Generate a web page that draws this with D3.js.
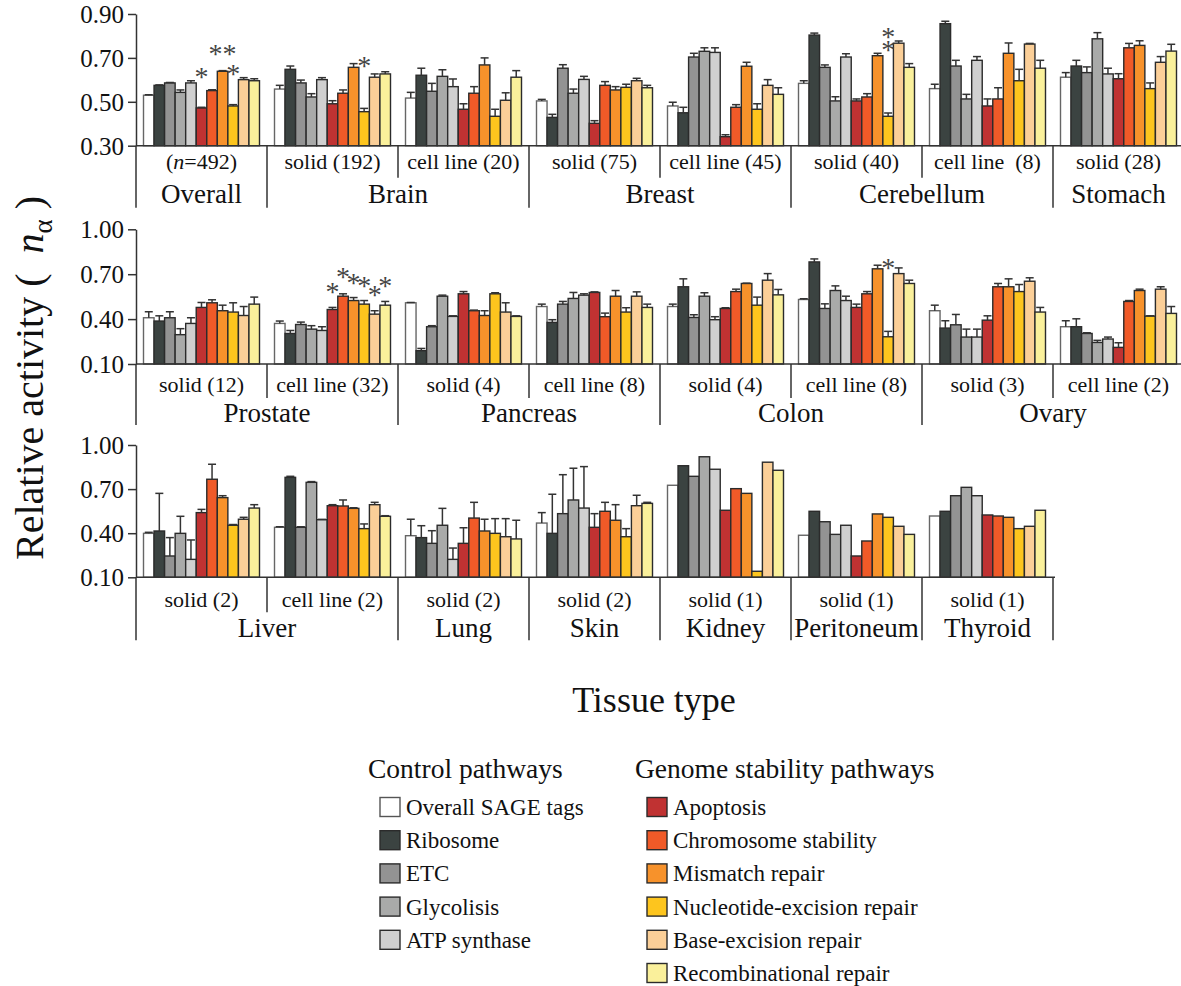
<!DOCTYPE html>
<html>
<head>
<meta charset="utf-8">
<script src="https://cdnjs.cloudflare.com/ajax/libs/d3/7.8.5/d3.min.js"></script>
<style>
  body { margin: 0; background: #fff; }
  svg { display: block; font-family: "Liberation Serif", "Times New Roman", serif; }
</style>
</head>
<body>
<div id="chart"></div>
<script>
// series (pathways), in bar order
const seriesNames = ["Overall SAGE tags", "Ribosome", "ETC", "Glycolisis", "ATP synthase",
  "Apoptosis", "Chromosome stability", "Mismatch repair", "Nucleotide-excision repair",
  "Base-excision repair", "Recombinational repair"];
const seriesColors = ["#ffffff", "#3b4341", "#939393", "#a9aaa9", "#d0d0d0",
  "#c03232", "#f05a28", "#f7922b", "#fdc51e", "#fbcf98", "#faf09b"];
const controlCount = 5;

// row 1
const row1Groups = ["(n=492)", "solid (192)", "cell line (20)", "solid (75)", "cell line (45)", "solid (40)", "cell line  (8)", "solid (28)"];
const row1Tissues = [["Overall", 1], ["Brain", 2], ["Breast", 2], ["Cerebellum", 2], ["Stomach", 1]];
const row1Ticks = [0.30, 0.50, 0.70, 0.90];
const row1Values = [
  [0.530, 0.575, 0.586, 0.543, 0.586, 0.472, 0.551, 0.639, 0.481, 0.601, 0.596],
  [0.558, 0.648, 0.586, 0.522, 0.601, 0.491, 0.539, 0.657, 0.455, 0.612, 0.627],
  [0.517, 0.621, 0.548, 0.616, 0.569, 0.466, 0.539, 0.668, 0.434, 0.507, 0.612],
  [0.504, 0.429, 0.653, 0.539, 0.602, 0.402, 0.575, 0.554, 0.566, 0.596, 0.564],
  [0.481, 0.450, 0.704, 0.730, 0.725, 0.341, 0.475, 0.662, 0.466, 0.575, 0.534],
  [0.584, 0.804, 0.657, 0.504, 0.704, 0.504, 0.522, 0.710, 0.434, 0.767, 0.657],
  [0.560, 0.856, 0.663, 0.513, 0.689, 0.481, 0.513, 0.721, 0.596, 0.763, 0.653],
  [0.612, 0.663, 0.633, 0.787, 0.627, 0.605, 0.746, 0.757, 0.560, 0.680, 0.731]
];
const row1Errors = [
  [0.002, 0.002, 0.002, 0.011, 0.010, 0.003, 0.004, 0.003, 0.006, 0.009, 0.009],
  [0.017, 0.015, 0.013, 0.015, 0.009, 0.014, 0.015, 0.017, 0.015, 0.015, 0.010],
  [0.026, 0.032, 0.036, 0.030, 0.035, 0.025, 0.030, 0.032, 0.032, 0.034, 0.030],
  [0.007, 0.014, 0.016, 0.019, 0.014, 0.012, 0.017, 0.015, 0.014, 0.011, 0.011],
  [0.017, 0.025, 0.017, 0.016, 0.021, 0.009, 0.012, 0.018, 0.025, 0.026, 0.030],
  [0.012, 0.009, 0.011, 0.019, 0.015, 0.009, 0.015, 0.011, 0.015, 0.010, 0.017],
  [0.020, 0.011, 0.026, 0.021, 0.017, 0.032, 0.051, 0.047, 0.052, 0.003, 0.036],
  [0.021, 0.026, 0.026, 0.028, 0.026, 0.023, 0.020, 0.021, 0.026, 0.026, 0.031]
];
const row1Stars = [[0, 5, 0.631, "*"], [0, 7, 0.736, "**"], [0, 8, 0.645, "*"],
  [1, 8, 0.681, "*"], [5, 8, 0.813, "*"], [5, 8, 0.754, "*"]];

// row 2
const row2Groups = ["solid (12)", "cell line (32)", "solid (4)", "cell line (8)", "solid (4)", "cell line (8)", "solid (3)", "cell line (2)"];
const row2Tissues = [["Prostate", 2], ["Pancreas", 2], ["Colon", 2], ["Ovary", 2]];
const row2Ticks = [0.10, 0.40, 0.70, 1.00];
const row2Values = [
  [0.409, 0.387, 0.409, 0.296, 0.371, 0.478, 0.509, 0.456, 0.447, 0.424, 0.500],
  [0.371, 0.304, 0.364, 0.333, 0.324, 0.464, 0.553, 0.524, 0.500, 0.433, 0.493],
  [0.509, 0.189, 0.349, 0.553, 0.418, 0.569, 0.456, 0.424, 0.569, 0.447, 0.418],
  [0.484, 0.378, 0.500, 0.538, 0.560, 0.578, 0.416, 0.553, 0.447, 0.553, 0.478],
  [0.484, 0.616, 0.411, 0.553, 0.396, 0.471, 0.584, 0.638, 0.493, 0.660, 0.562],
  [0.531, 0.782, 0.471, 0.591, 0.524, 0.478, 0.569, 0.736, 0.282, 0.704, 0.638],
  [0.456, 0.340, 0.362, 0.280, 0.280, 0.393, 0.616, 0.616, 0.584, 0.653, 0.447],
  [0.349, 0.349, 0.304, 0.244, 0.267, 0.211, 0.518, 0.591, 0.420, 0.600, 0.438]
];
const row2Errors = [
  [0.040, 0.035, 0.040, 0.040, 0.038, 0.033, 0.020, 0.037, 0.062, 0.060, 0.047],
  [0.016, 0.020, 0.016, 0.023, 0.025, 0.014, 0.016, 0.020, 0.024, 0.023, 0.025],
  [0.002, 0.015, 0.007, 0.007, 0.004, 0.015, 0.004, 0.032, 0.007, 0.062, 0.004],
  [0.016, 0.018, 0.018, 0.040, 0.009, 0.004, 0.024, 0.038, 0.029, 0.029, 0.022],
  [0.016, 0.053, 0.018, 0.023, 0.020, 0.005, 0.016, 0.002, 0.054, 0.044, 0.036],
  [0.005, 0.020, 0.031, 0.031, 0.029, 0.022, 0.015, 0.024, 0.036, 0.038, 0.022],
  [0.037, 0.049, 0.069, 0.053, 0.053, 0.029, 0.022, 0.053, 0.047, 0.023, 0.031],
  [0.040, 0.053, 0.005, 0.014, 0.013, 0.031, 0.006, 0.009, 0.002, 0.016, 0.046]
];
const row2Stars = [[1, 5, 0.605, "*"], [1, 6, 0.705, "*"], [1, 7, 0.671, "*"], [1, 8, 0.649, "*"],
  [1, 9, 0.587, "*"], [1, 10, 0.645, "*"], [5, 8, 0.771, "*"]];

// row 3
const row3Groups = ["solid (2)", "cell line (2)", "solid (2)", "solid (2)", "solid (1)", "solid (1)", "solid (1)"];
const row3Tissues = [["Liver", 2], ["Lung", 1], ["Skin", 1], ["Kidney", 1], ["Peritoneum", 1], ["Thyroid", 1]];
const row3Ticks = [0.10, 0.40, 0.70, 1.00];
const row3Values = [
  [0.399, 0.415, 0.245, 0.399, 0.222, 0.540, 0.767, 0.642, 0.454, 0.495, 0.571],
  [0.440, 0.780, 0.440, 0.746, 0.492, 0.587, 0.585, 0.569, 0.431, 0.594, 0.515],
  [0.383, 0.370, 0.331, 0.454, 0.222, 0.331, 0.503, 0.415, 0.399, 0.376, 0.361],
  [0.469, 0.399, 0.533, 0.626, 0.571, 0.440, 0.549, 0.488, 0.376, 0.587, 0.603],
  [0.726, 0.859, 0.787, 0.920, 0.835, 0.556, 0.703, 0.671, 0.141, 0.883, 0.828],
  [0.386, 0.549, 0.478, 0.392, 0.454, 0.245, 0.347, 0.531, 0.508, 0.447, 0.392],
  [0.517, 0.549, 0.655, 0.712, 0.655, 0.524, 0.517, 0.508, 0.431, 0.447, 0.556]
];
const row3Errors = [
  [0.007, 0.256, 0.125, 0.116, 0.132, 0.022, 0.102, 0.013, 0.005, 0.013, 0.023],
  [0.004, 0.007, 0.004, 0.005, 0.002, 0.007, 0.041, 0.004, 0.032, 0.016, 0.004],
  [0.112, 0.081, 0.086, 0.115, 0.077, 0.106, 0.107, 0.080, 0.100, 0.123, 0.127],
  [0.071, 0.266, 0.265, 0.216, 0.282, 0.093, 0.061, 0.106, 0.055, 0.071, 0.007],
  [0, 0, 0, 0, 0, 0, 0, 0, 0, 0, 0],
  [0, 0, 0, 0, 0, 0, 0, 0, 0, 0, 0],
  [0, 0, 0, 0, 0, 0, 0, 0, 0, 0, 0]
];
const row3Stars = [];

const width = 1181, height = 986;
const axisX = 136, groupStep = 131;
const serif = "'Liberation Serif', 'Times New Roman', serif";

const svg = d3.select("#chart").append("svg")
  .attr("width", width)
  .attr("height", height);

const rows = [
  { groups: row1Groups, tissues: row1Tissues, ticks: row1Ticks, values: row1Values, errors: row1Errors, stars: row1Stars,
    domain: [0.3, 0.9], range: [145.7, 14], subY: 23, tisY: 57, subLine: 32, tisLine: 62, baseEnd: 1181 },
  { groups: row2Groups, tissues: row2Tissues, ticks: row2Ticks, values: row2Values, errors: row2Errors, stars: row2Stars,
    domain: [0.1, 1.0], range: [364, 229.3], subY: 28, tisY: 58, subLine: 34, tisLine: 61, baseEnd: 1181 },
  { groups: row3Groups, tissues: row3Tissues, ticks: row3Ticks, values: row3Values, errors: row3Errors, stars: row3Stars,
    domain: [0.1, 1.0], range: [577.3, 445], subY: 30, tisY: 60, subLine: 35, tisLine: 63, baseEnd: 1055 }
];

rows.forEach(drawRow);

function drawRow(row) {
  const g = svg.append("g");
  const nGroups = row.groups.length;

  const x = d3.scaleBand()
    .domain(d3.range(nGroups))
    .range([axisX, axisX + nGroups * groupStep])
    .padding(0);
  const xs = d3.scaleBand()
    .domain(d3.range(seriesNames.length))
    .range([7.5, groupStep - 7.5])
    .padding(0);
  const y = d3.scaleLinear()
    .domain(row.domain)
    .range(row.range);
  const base = y(row.domain[0]);

  // bars
  row.values.forEach((vals, gi) => {
    const gg = g.append("g").attr("transform", `translate(${x(gi)},0)`);
    gg.selectAll("rect")
      .data(vals)
      .enter().append("rect")
      .attr("x", (d, i) => xs(i))
      .attr("y", d => y(d))
      .attr("width", xs.bandwidth())
      .attr("height", d => base - y(d))
      .attr("fill", (d, i) => seriesColors[i])
      .attr("stroke", (d, i) => i === 0 ? "#666" : "#2b2b2b")
      .attr("stroke-width", 1.4);

    // error bars (upper only)
    const errs = row.errors[gi];
    vals.forEach((v, i) => {
      if (!errs[i]) return;
      const cx = xs(i) + xs.bandwidth() / 2;
      const top = y(v + errs[i]);
      gg.append("line")
        .attr("x1", cx).attr("x2", cx)
        .attr("y1", y(v)).attr("y2", top)
        .attr("stroke", "#333").attr("stroke-width", 1.5);
      gg.append("line")
        .attr("x1", cx - 4).attr("x2", cx + 4)
        .attr("y1", top).attr("y2", top)
        .attr("stroke", "#333").attr("stroke-width", 1.5);
    });
  });

  // significance stars
  row.stars.forEach(([gi, si, v, t]) => {
    g.append("text")
      .attr("x", x(gi) + xs(si) + xs.bandwidth() / 2)
      .attr("y", y(v) + 13)
      .attr("text-anchor", "middle")
      .style("font-family", serif)
      .style("font-size", "28px")
      .style("fill", "#444")
      .text(t);
  });

  // y axis
  const axis = g.append("g")
    .attr("transform", `translate(${axisX},0)`)
    .call(d3.axisLeft(y).tickValues(row.ticks).tickFormat(d3.format(".2f")).tickSize(8).tickSizeOuter(0));
  axis.select(".domain").attr("stroke", "#333").attr("stroke-width", 1.5);
  axis.selectAll(".tick line").attr("stroke", "#333").attr("stroke-width", 1.5);
  axis.selectAll(".tick text")
    .attr("x", -12)
    .attr("dy", "0.34em")
    .style("font-family", serif)
    .style("font-size", "25px")
    .style("fill", "#111");

  // baseline
  g.append("line")
    .attr("x1", axisX).attr("x2", row.baseEnd)
    .attr("y1", base).attr("y2", base)
    .attr("stroke", "#333").attr("stroke-width", 1.5);

  // tissue boundaries
  const bounds = [0];
  row.tissues.forEach(t => bounds.push(bounds[bounds.length - 1] + t[1]));

  // sub-group dividers and labels
  row.groups.forEach((lab, gi) => {
    if (gi > 0 && !bounds.includes(gi)) {
      g.append("line")
        .attr("x1", x(gi)).attr("x2", x(gi))
        .attr("y1", base).attr("y2", base + row.subLine)
        .attr("stroke", "#333").attr("stroke-width", 1.5);
    }
    const txt = g.append("text")
      .attr("x", x(gi) + groupStep / 2)
      .attr("y", base + row.subY)
      .attr("text-anchor", "middle")
      .style("font-family", serif)
      .style("font-size", "22px")
      .style("fill", "#111")
      .style("white-space", "pre");
    if (lab.startsWith("(n=")) {
      txt.append("tspan").text("(");
      txt.append("tspan").style("font-style", "italic").text("n");
      txt.append("tspan").text(lab.slice(2));
    } else {
      txt.text(lab);
    }
  });

  bounds.forEach(b => {
    if (b * groupStep + axisX > width) return;
    g.append("line")
      .attr("x1", axisX + b * groupStep).attr("x2", axisX + b * groupStep)
      .attr("y1", base).attr("y2", base + row.tisLine)
      .attr("stroke", "#333").attr("stroke-width", 1.5);
  });

  row.tissues.forEach((t, ti) => {
    const cx = axisX + (bounds[ti] + t[1] / 2) * groupStep;
    g.append("text")
      .attr("x", Math.min(cx, 1119))
      .attr("y", base + row.tisY)
      .attr("text-anchor", "middle")
      .style("font-family", serif)
      .style("font-size", "27px")
      .style("fill", "#111")
      .text(t[0]);
  });
}

// axis titles
const yTitle = svg.append("text")
  .attr("transform", "translate(43,378) rotate(-90)")
  .attr("text-anchor", "middle")
  .style("font-family", serif)
  .style("font-size", "40px")
  .style("fill", "#111")
  .style("white-space", "pre");
yTitle.append("tspan").text("Relative activity (  ");
yTitle.append("tspan").style("font-style", "italic").text("n");
yTitle.append("tspan").attr("dy", 9).style("font-size", "27px").text("α");
yTitle.append("tspan").attr("dy", -9).text(" )");

svg.append("text")
  .attr("x", 654)
  .attr("y", 712)
  .attr("text-anchor", "middle")
  .style("font-family", serif)
  .style("font-size", "36px")
  .style("fill", "#111")
  .text("Tissue type");

// legend
const legendCols = [
  { title: "Control pathways", x: 368, items: d3.range(0, controlCount) },
  { title: "Genome stability pathways", x: 635, items: d3.range(controlCount, seriesNames.length) }
];
legendCols.forEach(col => {
  svg.append("text")
    .attr("x", col.x).attr("y", 778)
    .style("font-family", serif)
    .style("font-size", "27.5px")
    .style("fill", "#111")
    .text(col.title);
  col.items.forEach((si, k) => {
    const cy = 807 + k * 33.2;
    svg.append("rect")
      .attr("x", col.x + 12).attr("y", cy - 9.5)
      .attr("width", 20).attr("height", 19)
      .attr("fill", seriesColors[si])
      .attr("stroke", si === 0 ? "#555" : "#2b2b2b")
      .attr("stroke-width", 1.4);
    svg.append("text")
      .attr("x", col.x + 38).attr("y", cy + 8)
      .style("font-family", serif)
      .style("font-size", "23px")
      .style("fill", "#111")
      .text(seriesNames[si]);
  });
});
</script>
</body>
</html>
